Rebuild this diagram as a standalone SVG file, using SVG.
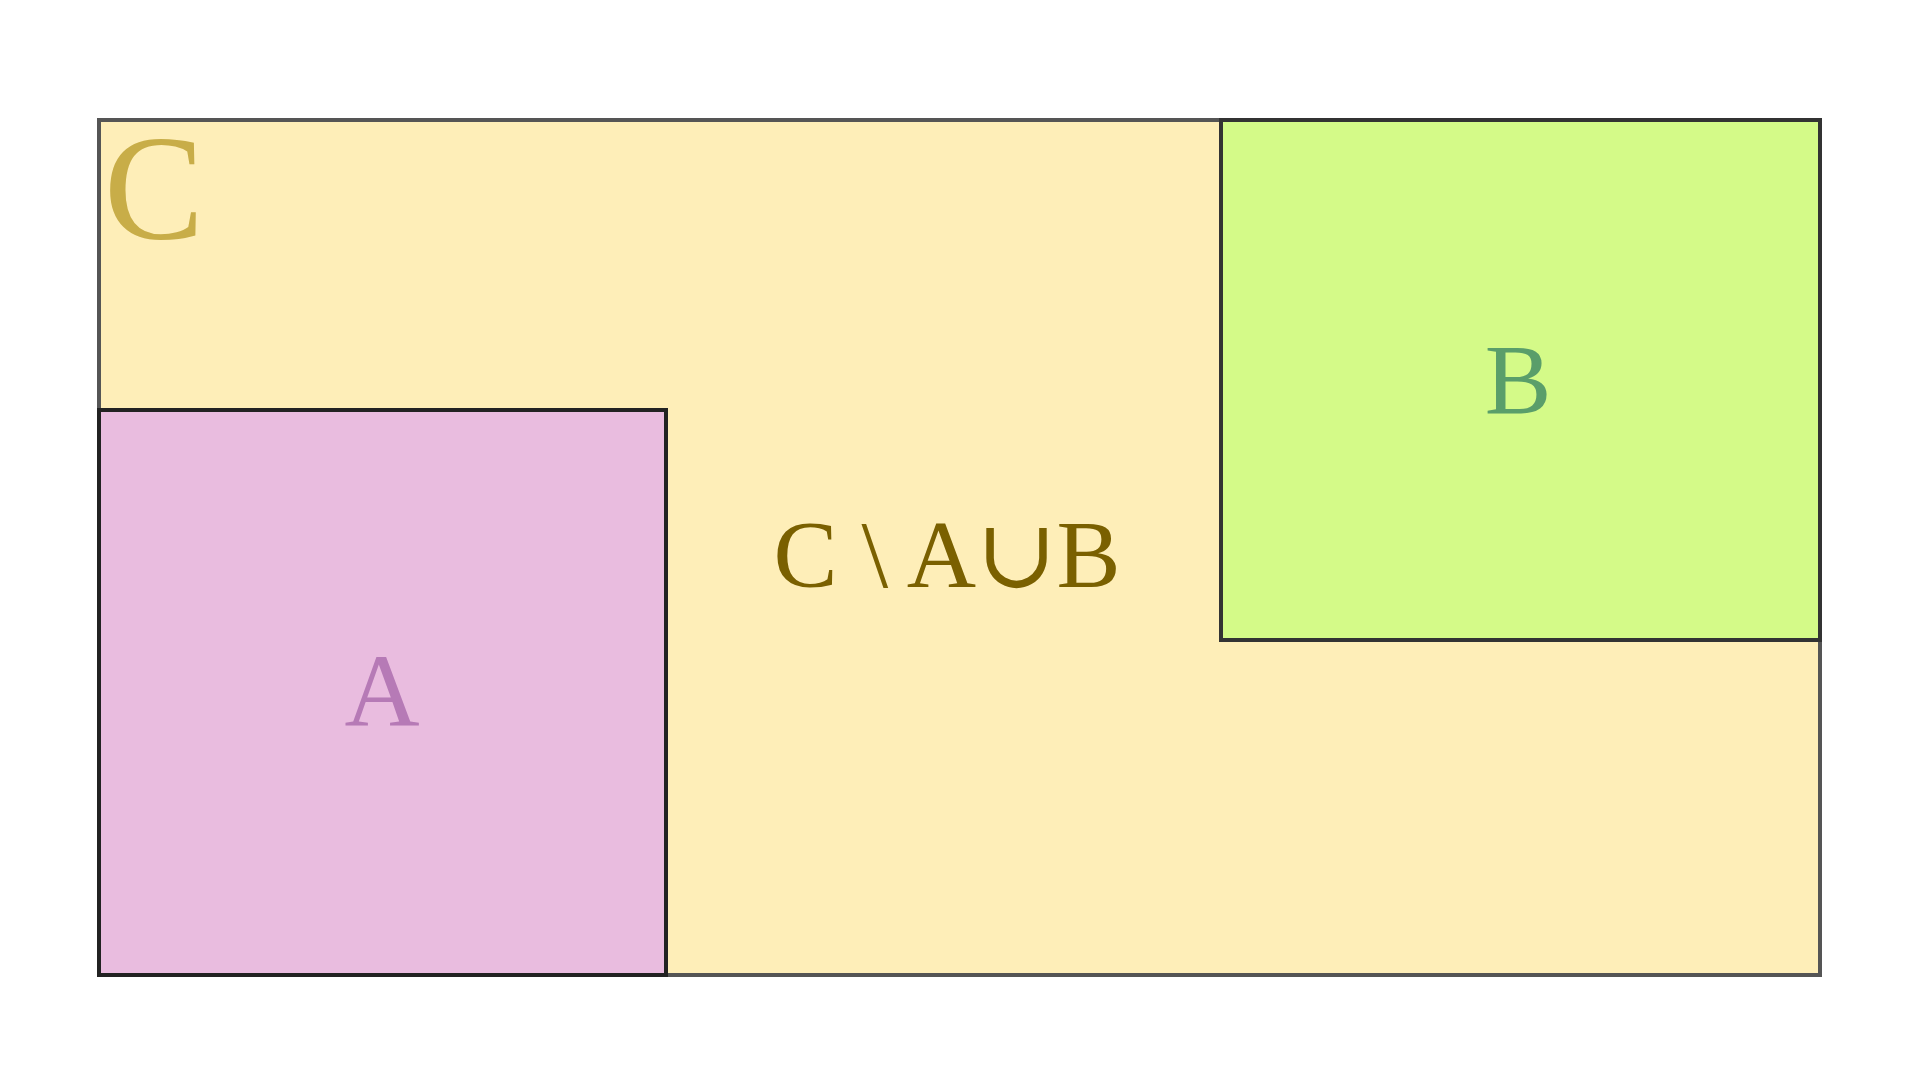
<svg xmlns="http://www.w3.org/2000/svg" width="1920" height="1080" viewBox="0 0 1920 1080">
<style>
text{font-family:"Liberation Serif","DejaVu Serif",serif}
</style>
<rect width="1920" height="1080" fill="#fff"/>
<g id="C"><rect x="99" y="120" width="1721" height="855" fill="#feeeb8" stroke="#555" stroke-width="4"/>
<text x="104" y="239" font-size="150" fill="#c8ad48">C</text></g>
<g id="A"><rect x="99" y="410" width="567" height="565" fill="#e9bcdf" stroke="#222" stroke-width="4"/>
<text x="382" y="726" font-size="104" fill="#b67ab6" text-anchor="middle">A</text></g>
<g id="B"><rect x="1221" y="120" width="599" height="520" fill="#d4fa88" stroke="#333" stroke-width="4"/>
<text x="1518" y="413" font-size="100" fill="#5a9e6a" text-anchor="middle">B</text></g>
<g id="diff"><text x="947" y="587" font-size="96" fill="#7a6000" text-anchor="middle">C \ A∪B</text></g>
<g id="connectors"/>
</svg>
